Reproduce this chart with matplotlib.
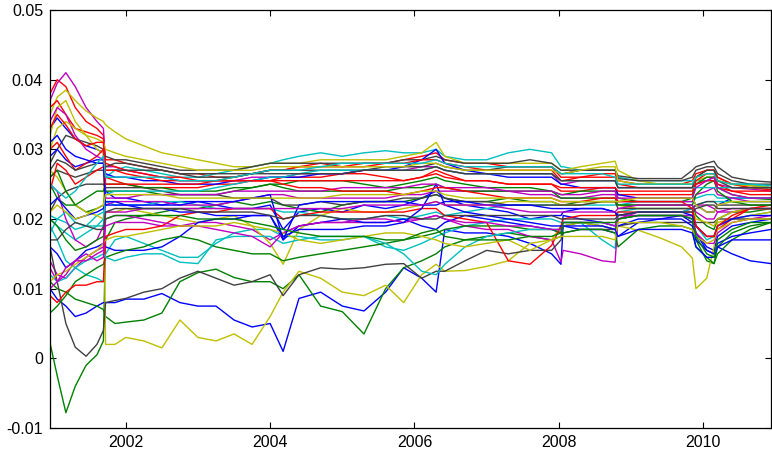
import numpy as np
import matplotlib
matplotlib.use('Agg')
import matplotlib.pyplot as plt

plt.rcParams['font.family'] = ['Liberation Sans', 'DejaVu Sans']

# sample dates (fractional years)
t_year = [2000.95, 2001.05, 2001.17, 2001.30, 2001.45, 2001.60, 2001.69, 2001.72, 2001.85, 2002.00,
          2002.25, 2002.50, 2002.75, 2003.00, 2003.25, 2003.50, 2003.75, 2004.00, 2004.18, 2004.40,
          2004.70, 2005.00, 2005.30, 2005.60, 2005.85, 2006.10, 2006.30, 2006.42, 2006.70, 2007.00,
          2007.30, 2007.60, 2007.90, 2008.03, 2008.06, 2008.30, 2008.60, 2008.78, 2008.82, 2009.10,
          2009.40, 2009.70, 2009.85, 2009.90, 2010.05, 2010.15, 2010.20, 2010.40, 2010.65, 2010.94]

# series values, in units of 1e-3
blue_a = [33, 34.5, 33, 31.5, 30.5, 30, 29.5, 24, 23, 23,
          22.5, 22, 22.5, 22.5, 22, 21.5, 21.5, 22, 18.5, 21,
          21.5, 21, 22, 21.5, 22, 23, 24, 23, 22, 21.5,
          21, 20, 20.5, 20.5, 21, 21.5, 21.5, 21, 20, 20.5,
          20.5, 20.5, 20, 18, 16, 15.5, 17.5, 19, 19.5, 20]
green_a = [2.2, -2.5, -7.8, -4, -1, 0.5, 2.5, 17, 19.5, 20,
           20.5, 21, 21.5, 21.5, 22, 22.5, 22, 22.5, 22, 21.5,
           21, 22, 22.5, 22.5, 22.5, 23, 23.5, 23, 22.5, 22.5,
           23, 22.5, 22.5, 22, 22, 22.5, 22.5, 22.5, 22, 22,
           22, 22, 22, 20.5, 19, 18.5, 20, 21, 21, 21.5]
red_a = [38, 40, 39, 36, 34, 33, 32, 28.5, 28.5, 28,
         27.5, 27, 26.5, 26.5, 26, 26, 26.5, 27, 27, 27.5,
         28, 27.5, 28, 28, 28.5, 29, 29.5, 28.5, 28, 28,
         27.5, 27.5, 27.5, 26, 26, 26, 26.5, 26.5, 25.5, 25,
         25, 25, 25.5, 26.5, 27, 27, 26, 25, 24.8, 24.5]
cyan_a = [20, 19, 18, 17, 18, 19, 20, 26, 27, 27.5,
          27, 26.5, 26, 26, 26.5, 27, 27.5, 28, 28.5, 29,
          29.5, 29, 29.5, 29.8, 29.5, 29.5, 30, 29, 28.5, 28.5,
          29.5, 30, 29.5, 27.5, 27.5, 27, 27, 27, 26, 25.5,
          25.5, 25.5, 25.5, 25.5, 25.5, 25.5, 25.5, 25, 25, 24.5]
magenta_a = [37, 39.5, 41, 39, 36, 34, 33, 27.5, 27.5, 27,
             26.5, 26, 25.5, 25.5, 25.5, 25.5, 26, 26, 26, 26.5,
             26.5, 26.5, 27, 27, 27, 27.5, 27.5, 27, 26.5, 26.5,
             26.5, 26.5, 26.5, 25, 25, 25.5, 25.5, 25.5, 24.5, 24.5,
             24.5, 24.5, 24.5, 25, 25.5, 26, 25, 24.5, 24.3, 24]
yellow_a = [35, 37.5, 38.5, 37, 35.5, 34.5, 34, 33.5, 32.5, 31.5,
            30.5, 29.5, 29, 28.5, 28, 27.5, 27.5, 28, 28, 28,
            28.5, 28.5, 28.5, 28.5, 29, 29.5, 31, 29, 28, 28,
            28, 28, 28, 27, 27, 27.5, 28, 28.3, 27, 25.5,
            25, 25, 25, 25.5, 26, 26, 25.5, 25, 24.5, 24.3]
gray_a = [28, 30, 32, 31.5, 31, 30.5, 30, 29, 28.5, 28.5,
          28, 27.5, 27, 27, 27, 27, 27.5, 28, 28, 28,
          28, 28, 28, 28, 28.5, 28.5, 29, 28.5, 28, 28,
          28, 28.5, 28, 27, 27, 27, 27, 27, 26.2, 25.8,
          25.8, 25.8, 27, 27.5, 28, 28.3, 27.5, 26, 25.5, 25.3]

blue_b = [10, 8.5, 7.5, 6, 6.5, 7.5, 8, 8, 8, 8.5,
          8.5, 9.3, 8, 7.5, 7.5, 5.5, 4.5, 5, 1, 8.6,
          9.5, 7.5, 6.8, 9.5, 13, 11.5, 9.5, 18.5, 18, 18,
          17.5, 16.5, 15, 13.5, 19, 18.5, 18.5, 18, 17.5, 19.5,
          20, 20.5, 19.5, 18, 15.5, 15, 16, 15, 14, 13.6]
green_b = [11, 10, 9.5, 8.5, 8, 7.5, 7, 6, 5, 5.2,
           5.5, 6.5, 11, 12.3, 12.8, 11.6, 11, 11, 10, 12,
           7.5, 6.7, 3.5, 10, 13, 14, 15, 16, 17, 17.5,
           18, 17.5, 17, 17.5, 19, 19.5, 19, 18.5, 20, 20.5,
           20.5, 20.5, 20.5, 17, 14, 13.6, 15, 17, 18.5, 19.5]
red_b = [36, 37, 35, 33, 32.5, 32, 31.5, 26, 25.5, 25,
         24.5, 24.5, 24.5, 24.5, 25, 25, 25.5, 25.5, 26, 26,
         26, 26.5, 26.5, 26, 25.5, 26, 27, 26.5, 25.5, 25.5,
         25, 25, 25, 24, 24, 24, 24.5, 24.5, 23.5, 23.5,
         23.5, 23.5, 23.5, 25.5, 26.5, 26.5, 25, 24, 23.5, 23.5]
cyan_b = [19, 17, 14, 13, 12, 11.5, 11, 15, 17, 17.5,
          16.5, 15.5, 14.5, 14.5, 16.5, 18, 18.5, 18.5, 17.5, 17.5,
          17, 17, 17.5, 16, 15.5, 16.5, 17.5, 18, 19, 19.5,
          20, 20, 20, 19.5, 19.5, 19.5, 17, 15.8, 21, 21.5,
          21.5, 21.5, 21.5, 19, 17, 17.5, 19, 20, 20.5, 21]
magenta_b = [14, 12, 11.5, 13, 14.5, 15.5, 16, 19, 19.5, 19.5,
             19.5, 19, 19, 19.5, 19.5, 19, 18.5, 17, 18, 19,
             19.5, 19.5, 19.5, 19.5, 20, 20, 20.5, 20, 19, 18.5,
             18.5, 17.5, 17, 13.8, 15.5, 15, 14, 13.8, 20, 21,
             21, 21, 21.5, 22, 22, 21.5, 21, 21, 21.5, 21.5]
yellow_b = [32, 36, 37, 34, 32, 30, 29.5, 2, 2, 3,
            2.5, 1.5, 5.5, 3, 2.5, 3.5, 2, 6, 9.5, 12.5,
            11.5, 9.5, 9, 10.5, 8, 12, 13.5, 12.5, 12.6, 13.2,
            14, 16.5, 17, 19, 19, 19.5, 19, 18.5, 19, 18.4,
            17.3, 16, 14.4, 10, 11.5, 16, 19.5, 20, 20.5, 21]
gray_b = [16, 11, 5, 1.6, 0.3, 2, 4, 8, 8.3, 8.6,
          9.5, 10, 11.5, 12.5, 11.5, 10.5, 11, 12, 9, 12,
          13, 12.8, 13, 13.5, 13.6, 11.5, 12.5, 12.5, 14, 15.5,
          15, 15.5, 15.5, 17, 18, 18.5, 18.5, 18.5, 19, 19.5,
          19.5, 19.5, 19.5, 19.5, 19.5, 19.5, 20, 20, 20, 20]

blue_c = [29, 30, 28.5, 27.5, 28, 28.5, 28.5, 26.5, 26, 26,
          25.5, 25.5, 25, 25, 25, 25.5, 25.5, 26, 26, 26,
          26.5, 26.5, 27, 27, 27.5, 28.5, 30, 28, 27, 26.5,
          26, 26, 26, 25, 25, 24.5, 24.5, 24.5, 23.5, 23,
          23, 23, 23, 22, 21, 21, 22, 23, 23, 23]
green_c = [25, 23, 22, 22, 21, 21.5, 22, 24, 24, 24,
           24, 23.5, 23.5, 23.5, 23.5, 24, 24.5, 25, 25, 25.5,
           25.5, 25.5, 25, 24.5, 25, 25.5, 26, 25.5, 25, 24.5,
           24.5, 24.5, 24, 23.5, 23.5, 24, 24, 24, 23, 22.5,
           22.5, 22.5, 23, 25, 26, 26, 24.5, 23.5, 23, 22.8]
red_c = [30, 31, 29, 27, 28, 29, 30, 28, 27.5, 27,
         26.5, 26, 26, 25.5, 25.5, 26, 26.5, 27, 27, 27.5,
         27.5, 27.5, 27.5, 28, 28, 28.5, 28.5, 28, 27.5, 27,
         27, 27, 27, 25.5, 25.5, 26, 26, 26, 25, 24.5,
         24.5, 24.5, 24.5, 26, 27, 27, 26, 25, 24.5, 24.2]
cyan_c = [20.5, 20, 19.5, 18.5, 19, 20.5, 21, 22.5, 22, 22,
          22, 22.5, 22.5, 22, 21.5, 21.5, 21.5, 21.5, 21, 21,
          20.5, 20, 20, 20.5, 20, 20.5, 21, 20.5, 21, 21.5,
          22, 22, 22, 22, 22, 22, 22, 22, 22, 22.5,
          22.5, 22.5, 22.5, 23, 23.5, 23.5, 23, 23, 23, 23]
magenta_c = [25, 24, 20, 17, 16, 17, 19, 22, 22.5, 22.5,
             22.5, 22.5, 22, 22, 22, 22.5, 23, 23.5, 23.5, 23,
             23, 23, 23, 23, 23.5, 23.5, 24, 24, 24, 24,
             24, 23.5, 23.5, 23, 23, 23, 23.5, 23.5, 22.5, 22.5,
             22.5, 22.5, 22.5, 23.5, 24, 24.5, 23.5, 23, 22.5, 22.5]
yellow_c = [27, 26, 24, 22, 21, 20.5, 20, 21, 21, 21.5,
            21, 20.5, 20, 19.5, 20, 20.5, 19, 16.5, 13.5, 18.5,
            20.5, 21.5, 21, 21, 21.5, 22, 22.5, 22, 22, 22,
            22.5, 22.5, 22.5, 22, 22, 22, 22.5, 22.5, 22, 21.5,
            21.5, 21.5, 21.5, 20, 19.5, 19, 20, 21, 21.5, 21.5]
gray_c = [26, 27, 26.5, 26, 26.5, 27, 27, 27, 27, 27,
          27, 27, 26.5, 26.5, 26.5, 26.5, 26.5, 27, 27, 27,
          27, 27, 27, 27.5, 27.5, 27.5, 28, 27.5, 27, 27,
          27.5, 27.5, 27.5, 26.5, 26.5, 27, 27, 27, 25.8, 25.5,
          25.5, 25.5, 26, 27, 27.5, 27.5, 26.5, 25.5, 25, 25]

blue_d = [16, 15, 13, 14, 15.5, 16, 16.5, 16, 15.5, 15.5,
          15.5, 16, 17.5, 19.5, 20, 20, 20.5, 20.5, 17, 19,
          19.5, 20, 19.5, 19.5, 20, 19, 18.5, 19.5, 20.5, 20,
          19.5, 19, 18.5, 18, 20.5, 20, 19.5, 19, 19, 20,
          20, 20, 19, 17, 15.5, 15, 16.5, 17.5, 18, 18.5]
green_d = [6.5, 7.5, 9, 11, 12, 13, 13.5, 14.5, 15, 15.5,
           16, 17, 17.5, 17, 16, 15.5, 15, 15, 14, 14.5,
           15, 15.5, 16, 16.5, 17, 17.5, 18, 18.5, 19, 19,
           19, 18.5, 18.5, 18, 18, 18.5, 18.5, 18, 16, 18.5,
           19, 19, 18.5, 16, 14.5, 13.6, 16, 18, 19, 19.5]
red_d = [9, 8, 9.5, 10.5, 10.5, 11, 11, 17.5, 18, 18.5,
         18.5, 19, 20.5, 21, 21, 21.5, 21.5, 21.5, 20, 20.5,
         21, 21, 21, 21, 21, 21.5, 21.5, 20.5, 20, 19.5,
         14, 13.5, 16.2, 19, 20, 20.5, 20.5, 20.5, 21, 21,
         21, 21, 21, 19, 17.5, 17.5, 18.5, 20, 21.5, 22]
cyan_d = [12, 11, 11.5, 13, 14, 14.5, 15, 14.5, 14, 14.5,
          15, 15, 13.8, 13.6, 17, 17.5, 17.5, 17.5, 16.5, 17,
          17.5, 17.5, 17.5, 16.5, 15, 12.5, 12, 13.5, 16, 17.5,
          18, 18.5, 18.5, 18.5, 19.5, 19.5, 19.5, 19, 20.5, 21,
          21, 21, 21.5, 22, 22.5, 22.5, 22.5, 22.5, 22.5, 22.5]
magenta_d = [13, 11, 12, 14, 15, 14, 14.5, 20, 20.5, 20.5,
             20, 19.5, 19, 19, 18.5, 18, 17.5, 16, 18, 19,
             19.5, 19.5, 20, 20, 19.5, 20, 20.5, 20, 19.5, 19.5,
             19, 19, 18.5, 18.5, 19.5, 19.5, 19.5, 19, 20.5, 20.5,
             20.5, 20.5, 20.5, 18, 16.5, 16.5, 18, 19.5, 20, 20.5]
yellow_d = [11, 12, 12.5, 13.5, 14.5, 15.5, 16.5, 17, 17.5, 17.5,
            18, 18.5, 19, 19, 19, 19.5, 19, 18.5, 18, 17,
            16.5, 17, 17.5, 18, 18, 17.5, 17, 16.5, 16, 16.5,
            17, 15.5, 17, 17.5, 17.5, 17.5, 17.5, 17, 19.5, 19.5,
            19.5, 19, 18.5, 17.5, 16.5, 17, 18.5, 19.5, 20, 20]
gray_d = [21, 23, 24, 24.5, 25, 25, 25, 24.5, 24.5, 24.5,
          24.5, 24, 23.5, 23.5, 23.5, 23, 23, 23, 22, 22,
          22.5, 22, 22.5, 22.5, 23, 23, 23.5, 23, 22.5, 22.5,
          22, 22, 22, 22, 22, 22, 22.5, 22.5, 21.5, 21.5,
          21.5, 21.5, 21.5, 22, 22.5, 22.5, 22, 22, 22, 22]

blue_e = [22, 23, 21.5, 20, 20.5, 21, 21.5, 22.5, 22.5, 22,
          21.5, 21.5, 21, 21, 20.5, 20.5, 20.5, 20.5, 17.5, 18.5,
          18.5, 18.5, 19, 19, 19.5, 21.5, 25, 22, 21, 20.5,
          20, 19.5, 19, 19, 19, 19, 19, 18.5, 17.5, 18.5,
          18.5, 18.5, 18, 16, 14.5, 14.5, 16, 17, 17, 17]
green_e = [26, 27, 24, 22, 23, 24, 24, 25, 25, 25,
           24.5, 24.5, 24, 24, 24, 24.5, 24.5, 25, 24.5, 24,
           24, 24, 24, 24, 24.5, 24.5, 25, 24.5, 24, 24,
           24, 24, 24, 23, 23, 23, 23, 23, 22, 22,
           22, 22, 22, 23.5, 25, 25.5, 24, 22.5, 22, 22]
red_e = [24, 28, 27, 25, 26, 27, 27.5, 27, 27, 26.5,
         26, 25.5, 25.5, 25.5, 25.5, 25.5, 25.5, 25.5, 25.5, 25.5,
         25.5, 25.5, 25.5, 25.5, 25.5, 26, 26.5, 26, 25.5, 25.5,
         25, 25, 25, 24.5, 24.5, 24.5, 24.5, 24.5, 24, 24,
         24, 24, 24, 25, 25.5, 25.5, 24.5, 24, 24, 24]
cyan_e = [18, 20, 21, 19.5, 19, 19, 19, 23.5, 24, 24,
          24, 24, 24, 24, 24.5, 25, 25.5, 26, 26, 26.5,
          27, 27, 27, 27, 27, 27, 27.5, 27, 26.5, 26.5,
          26.5, 26.5, 26.5, 25.5, 25.5, 25.5, 25.5, 25.5, 24.5, 24.5,
          24.5, 24.5, 24.5, 24.5, 24.5, 24.5, 24.5, 24.5, 24.5, 24.5]
magenta_e = [34, 36, 35, 32, 30, 29, 28.5, 23, 23, 23,
             23.5, 23.5, 23.5, 23.5, 23.5, 24, 24, 24, 24, 24,
             24, 24.5, 24.5, 24.5, 24.5, 25, 25, 24.5, 24.5, 24.5,
             24, 24, 24, 23.5, 23.5, 23.5, 24, 24, 23, 23,
             23, 23, 23, 24.5, 25.5, 26, 24.5, 23.5, 23, 23]
yellow_e = [30, 33, 34, 33, 32, 31.5, 31, 30, 29.5, 29,
            28.5, 28, 27.5, 27, 27, 27, 27, 27.5, 27.5, 27.5,
            27.5, 27.5, 27.5, 27.5, 27.5, 28, 28, 27.5, 27, 27,
            27, 27, 27, 26.5, 26.5, 27, 27.5, 27.5, 25.5, 25,
            25, 25, 25, 26, 26.5, 26.5, 25.5, 25, 24.8, 24.5]
gray_e = [27, 28.5, 28, 27, 27.5, 28, 28, 27.5, 28, 28,
          27.5, 27, 26.5, 26, 26, 26, 26.5, 26.5, 26.5, 26.5,
          26.5, 26.5, 27, 27, 27, 27, 27.5, 27, 26.5, 26.5,
          26.5, 26.5, 26.5, 25.5, 25.5, 25.5, 25.5, 25.5, 24.5, 24.5,
          24.5, 24.5, 24.5, 26, 27, 27, 25.5, 24.5, 24.5, 24.5]

blue_f = [31, 32, 30, 29, 28.5, 28, 28, 22, 22, 22,
          22, 22, 22, 22.5, 22.5, 22.5, 23, 23.5, 17, 22,
          22.5, 22.5, 22.5, 22.5, 22.5, 22, 22, 22.5, 22.5, 22,
          22, 22, 21.5, 21.5, 21.5, 21.5, 21.5, 21, 20.5, 21,
          21, 21, 20.5, 19, 17.5, 17.5, 19, 20, 20.5, 20.5]
green_f = [20, 19, 17, 15.5, 16, 17, 17.5, 20, 20.5, 20.5,
           20.5, 20.5, 20.5, 20, 20, 20, 19.5, 19, 18.5, 18,
           17.5, 17.5, 17.5, 17, 17, 18, 18.5, 17.5, 17, 17,
           17, 17.5, 17.5, 18, 19.5, 19.5, 19.5, 19.5, 20, 20.5,
           20.5, 20.5, 20, 17.5, 15, 14.5, 17, 18.5, 19.5, 19.5]
red_f = [33, 35, 33.5, 31.5, 30.5, 31, 31, 25, 25, 25,
         25, 25, 25, 25, 25.5, 25.5, 25.5, 25.5, 25, 24.5,
         24.5, 24, 24, 24, 23.5, 24, 24.5, 24.5, 24, 23.5,
         23, 23, 23, 22.5, 22.5, 22.5, 23, 23, 22.5, 22.5,
         22.5, 22.5, 21.5, 19, 17.5, 17.5, 19, 20.5, 21.5, 21.5]
cyan_f = [25, 24, 23, 24, 26, 28, 29, 26, 26, 26,
          26, 26, 25.5, 25.5, 25.5, 26, 26.5, 27, 27, 27,
          27.5, 28, 28, 28, 28, 28, 28.5, 28, 27.5, 27.5,
          27.5, 27.5, 27.5, 26.5, 26.5, 26.5, 26.5, 26, 25, 25,
          25, 25, 25, 26, 26.5, 26.5, 25.5, 25, 25, 24.8]
magenta_f = [10, 11, 13, 14, 14, 15, 15.5, 21, 21, 21,
             21.5, 21.5, 21.5, 21.5, 21.5, 21.5, 21.5, 21.5, 21.5, 21.5,
             21.5, 21.5, 22, 22, 22, 22, 22.5, 22, 22, 22,
             21.5, 21, 21, 21, 21, 21, 21, 21, 21.5, 22,
             22, 22, 22, 21, 20, 20, 21, 21.5, 21.5, 21.5]
yellow_f = [21, 22, 21, 20, 20.5, 21.5, 22, 23.5, 23.5, 23.5,
            23.5, 23.5, 23, 23, 23, 23, 23, 23, 23, 23,
            23, 23.5, 23.5, 23.5, 23.5, 24, 24, 23.5, 23, 23,
            23, 23, 23, 22.5, 22.5, 22.5, 22.5, 22.5, 22.5, 23,
            23, 23, 23, 22, 21, 21, 22, 22.5, 22.5, 22.5]
gray_f = [17, 17, 18.5, 19.5, 19, 18.5, 18.5, 21, 21.5, 21.5,
          21.5, 21.5, 21.5, 21, 21, 21, 21, 20.5, 20, 20.5,
          20.5, 20, 20, 20.5, 20.5, 20, 20, 20.5, 20.5, 20.5,
          20.5, 20.5, 20.5, 20, 20, 20, 20, 20, 20.5, 21,
          21, 21, 21, 21.5, 22, 22, 21.5, 21.5, 21.5, 21.5]

series = [blue_a, green_a, red_a, cyan_a, magenta_a, yellow_a, gray_a,
          blue_b, green_b, red_b, cyan_b, magenta_b, yellow_b, gray_b,
          blue_c, green_c, red_c, cyan_c, magenta_c, yellow_c, gray_c,
          blue_d, green_d, red_d, cyan_d, magenta_d, yellow_d, gray_d,
          blue_e, green_e, red_e, cyan_e, magenta_e, yellow_e, gray_e,
          blue_f, green_f, red_f, cyan_f, magenta_f, yellow_f, gray_f]

# classic matlab line colour order
colors = ['#0000ff', '#008000', '#ff0000', '#00bfbf', '#bf00bf', '#bfbf00', '#404040']

fig = plt.figure(figsize=(7.72, 4.51), dpi=100)
ax = fig.add_axes([50 / 772, 23 / 451, 721 / 772, 418 / 451])

for i, s in enumerate(series):
    ax.plot(t_year, np.array(s) * 1e-3, color=colors[i % 7], linewidth=1.0)

ax.set_xlim(2000.95, 2010.94)
ax.set_ylim(-0.01, 0.05)
ax.set_xticks([2002, 2004, 2006, 2008, 2010])
ax.set_xticklabels(['2002', '2004', '2006', '2008', '2010'])
ax.set_yticks([-0.01, 0, 0.01, 0.02, 0.03, 0.04, 0.05])
ax.set_yticklabels(['-0.01', '0', '0.01', '0.02', '0.03', '0.04', '0.05'])
ax.tick_params(direction='in', top=True, right=True, length=4, width=0.8,
               labelsize=11.5, pad=5)
for sp in ax.spines.values():
    sp.set_linewidth(0.9)

plt.savefig('out.png', dpi=100)
